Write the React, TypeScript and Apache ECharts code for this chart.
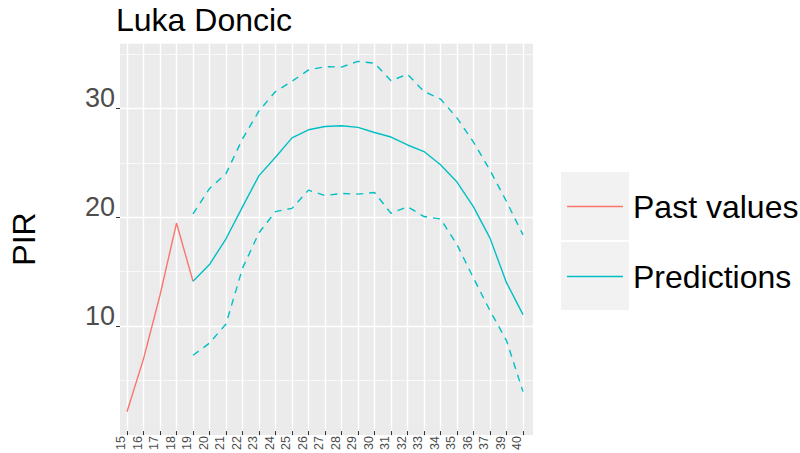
import React, { useEffect, useRef } from "react";
import * as echarts from "echarts";

const categories = ["15","16","17","18","19","20","21","22","23","24","25","26","27","28","29","30","31","32","33","34","35","36","37","39","40"];

// Past values (ages 15-19)
const pastValues = [1.8, 6.7, 12.6, 19.3, 13.9];

// Predictions start at age 19 (index 4)
const predStartIndex = 4;
const predictions = [13.9, 15.45, 17.84, 20.8, 23.7, 25.4, 27.2, 27.95, 28.26, 28.32, 28.17, 27.7, 27.28, 26.54, 25.93, 24.7, 23.1, 20.8, 17.9, 13.77, 10.8];
const upperBound = [20.14, 22.5, 23.88, 27.1, 29.7, 31.5, 32.45, 33.5, 33.8, 33.77, 34.3, 34.13, 32.5, 33.1, 31.5, 30.8, 29.05, 26.8, 24.2, 21.3, 18.2];
const lowerBound = [7.03, 8.16, 9.94, 15.1, 18.4, 20.36, 20.66, 22.35, 21.85, 22.04, 21.98, 22.13, 20.2, 20.82, 19.9, 19.68, 17.3, 14.2, 11.17, 8.4, 3.66];

const yTicks = [10, 20, 30];

const FONT = "'Liberation Sans', Arial, Helvetica, sans-serif";
const RED = "#F8766D";
const TEAL = "#00BFC4";

function padTo(values: number[], start: number): (number | null)[] {
  const out: (number | null)[] = categories.map(() => null);
  values.forEach((v, i) => { out[start + i] = v; });
  return out;
}

export default function App() {
  const ref = useRef<HTMLDivElement>(null);
  useEffect(() => {
    if (!ref.current) return;
    const chart = echarts.init(ref.current, null, { renderer: "svg" });
    const lineSeries = (name: string, data: (number | null)[], color: string, dashed: boolean) => ({
      name,
      type: "line",
      xAxisIndex: 1,
      yAxisIndex: 2,
      data,
      symbol: "none",
      connectNulls: false,
      silent: true,
      itemStyle: { color },
      lineStyle: { color, width: 1.4, type: dashed ? [7, 6] : "solid" },
    });
    chart.setOption({
      animation: false,
      textStyle: { fontFamily: FONT },
      title: {
        text: "Luka Doncic",
        left: 116,
        top: 4,
        padding: 0,
        textStyle: { fontSize: 32, fontWeight: "normal", color: "#000", fontFamily: FONT },
      },
      grid: [
        { left: 117, right: 267, top: 43, bottom: 18, show: true, backgroundColor: "#EBEBEB", borderWidth: 0 },
        { left: 127, right: 277, top: 43, bottom: 18 },
      ],
      xAxis: [
        { gridIndex: 0, type: "value", min: 0, max: 1, show: false },
        {
          gridIndex: 1,
          type: "category",
          data: categories,
          boundaryGap: false,
          axisLine: { show: false },
          axisTick: { show: true, length: 4, interval: 0, lineStyle: { color: "#333", width: 1 } },
          axisLabel: {
            interval: 0,
            rotate: 90,
            fontSize: 12.5,
            color: "#4D4D4D",
            margin: 5,
            verticalAlign: "bottom",
            lineHeight: 12,
            fontFamily: FONT,
          },
          splitLine: { show: true, interval: 0, lineStyle: { color: "#FFFFFF", width: 1.4 } },
        },
      ],
      yAxis: [
        {
          gridIndex: 0,
          type: "value",
          min: 0,
          max: 36,
          interval: 5,
          axisLine: { show: false },
          axisTick: { show: false },
          axisLabel: { show: false },
          splitLine: { show: true, lineStyle: { color: "#FFFFFF", width: 0.7 } },
        },
        {
          gridIndex: 0,
          type: "value",
          min: 0,
          max: 36,
          interval: 10,
          position: "left",
          axisLine: { show: false },
          axisTick: { show: true, length: 4, customValues: yTicks, lineStyle: { color: "#333", width: 1 } },
          axisLabel: {
            customValues: yTicks,
            fontSize: 27,
            color: "#4D4D4D",
            margin: 5,
            verticalAlign: "bottom",
            lineHeight: 20,
            fontFamily: FONT,
          },
          splitLine: { show: true, lineStyle: { color: "#FFFFFF", width: 1.4 } },
          name: "PIR",
          nameLocation: "middle",
          nameGap: 80,
          nameTextStyle: { fontSize: 32, color: "#000", fontFamily: FONT },
        },
        { gridIndex: 1, type: "value", min: 0, max: 36, show: false },
      ],
      legend: {
        data: ["Past values", "Predictions"],
        orient: "vertical",
        left: 567,
        top: 188.5,
        padding: 0,
        icon: "rect",
        itemWidth: 56,
        itemHeight: 1.5,
        itemGap: 34,
        selectedMode: false,
        textStyle: { fontSize: 32, color: "#000", lineHeight: 36, padding: [0, 0, 0, 5], fontFamily: FONT },
      },
      graphic: [
        { type: "rect", z: 0, shape: { x: 561, y: 172, width: 68, height: 68 }, style: { fill: "#F2F2F2" } },
        { type: "rect", z: 0, shape: { x: 561, y: 242, width: 68, height: 68 }, style: { fill: "#F2F2F2" } },
      ],
      series: [
        lineSeries("Past values", padTo(pastValues, 0), RED, false),
        lineSeries("Predictions", padTo(predictions, predStartIndex), TEAL, false),
        lineSeries("Upper", padTo(upperBound, predStartIndex), TEAL, true),
        lineSeries("Lower", padTo(lowerBound, predStartIndex), TEAL, true),
      ],
    });
    return () => chart.dispose();
  }, []);
  return (
    <div
      ref={ref}
      style={{ position: "fixed", left: 0, top: 0, width: 800, height: 453, background: "#fff" }}
    />
  );
}
